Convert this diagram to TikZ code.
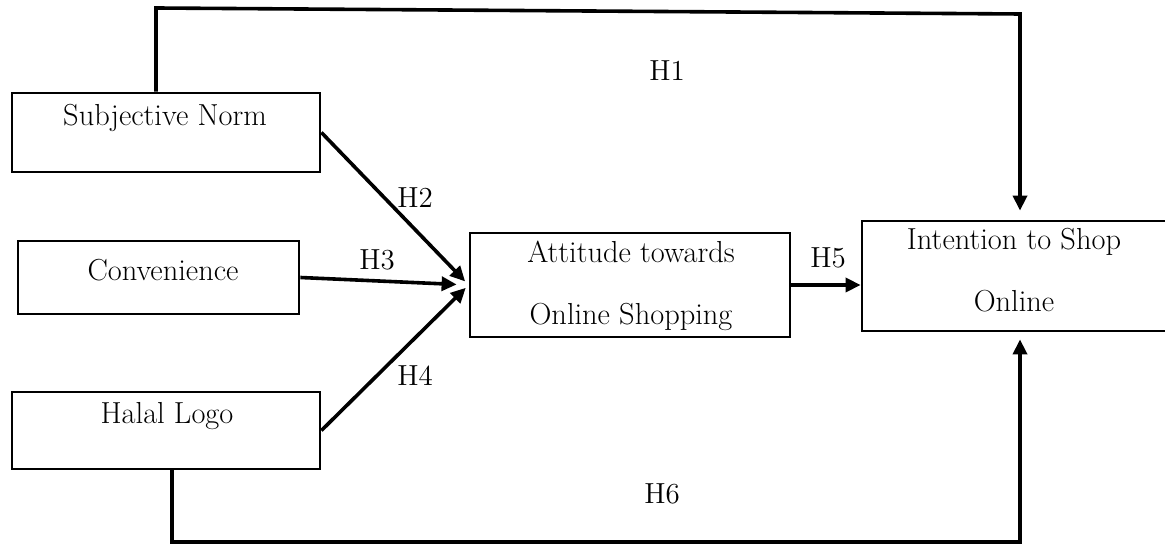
\documentclass[tikz,border=0pt]{standalone}
\usetikzlibrary{arrows.meta}

\begin{document}
\begin{tikzpicture}[x=0.5pt, y=-0.5pt,
  box/.style={draw, rectangle, line width=1.4pt, inner sep=0pt},
  txt/.style={anchor=base, inner sep=0pt, align=center, font=\fontsize{15.2}{31}\selectfont},
  hyp/.style={anchor=base, inner sep=0pt, font=\fontsize{14.5}{16}\selectfont},
  link/.style={line width=1.8pt, -{Triangle[length=7.5pt, width=7pt]}}]
\useasboundingbox (0,0) rectangle (1165,544);
% constructs
\node[box, minimum width=154pt, minimum height=39.5pt] (SN) at (166,132.5) {};
\node[box, minimum width=140.5pt, minimum height=36.5pt] (CV) at (158.5,277.5) {};
\node[box, minimum width=154pt, minimum height=38.5pt] (HL) at (166,430.5) {};
\node[box, minimum width=160pt, minimum height=52pt] (AT) at (630,285) {};
\node[box, minimum width=152pt, minimum height=55pt] (IS) at (1014,276) {};
\node[txt] (SNt) at (165,126) {Subjective Norm};
\node[txt] (CVt) at (163,281) {Convenience};
\node[txt] (HLt) at (167,423) {Halal Logo};
\node[txt] (ATt) at (631,325) {Attitude towards\\Online Shopping};
\node[txt] (ISt) at (1014,312) {Intention to Shop\\Online};
% paths
\coordinate (T1) at (156,8);
\coordinate (T2) at (1020,14);
\coordinate (B1) at (172,542);
\coordinate (B2) at (1020,542);
\draw[link, shorten >=4.5pt] (SN.north -| T1) -- (T1) -- (T2) -- (T2 |- IS.north);
\draw[link, shorten >=2.5pt] (SN.east) -- (AT.west);
\draw[link, shorten >=6pt] (CV.east) -- (AT.west);
\draw[link, shorten >=2pt] (HL.east) -- (AT.west);
\draw[link] (AT.east) -- (AT.east -| IS.west);
\draw[link, shorten >=3.5pt] (HL.south -| B1) -- (B1) -- (B2) -- (B2 |- IS.south);
% labels
\node[hyp] (H1) at (667,81) {H1};
\node[hyp] (H2) at (415,208) {H2};
\node[hyp] (H3) at (377,270) {H3};
\node[hyp] (H4) at (415,386) {H4};
\node[hyp] (H5) at (828,268) {H5};
\node[hyp] (H6) at (662,503) {H6};
\end{tikzpicture}
\end{document}
